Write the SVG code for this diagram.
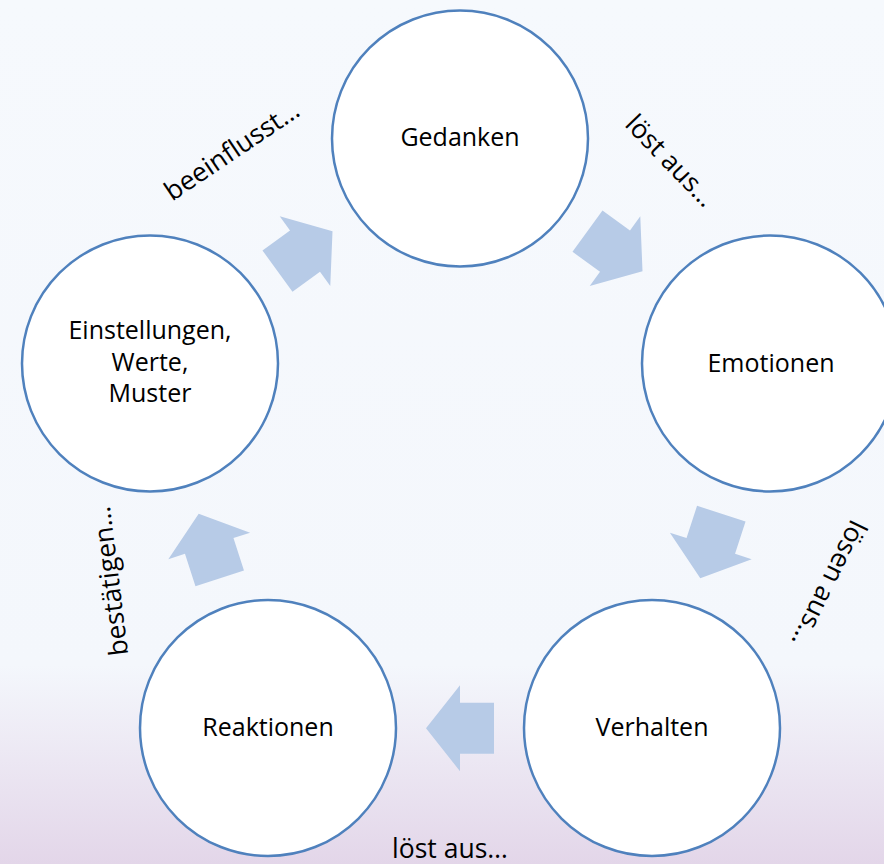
<svg xmlns="http://www.w3.org/2000/svg" width="884" height="864" viewBox="0 0 884 864">
<defs>
<linearGradient id="bg" x1="0" y1="0" x2="0" y2="1">
<stop offset="0" stop-color="#F6F9FD"/>
<stop offset="0.77" stop-color="#F4F7FC"/>
<stop offset="1" stop-color="#E3D6E9"/>
</linearGradient>
<path id="arr" d="M-34,-25.5 L0,-25.5 L0,-43 L34,0 L0,43 L0,25.5 L-34,25.5 Z"/>
<style>
.node{fill:#FFFFFF;stroke:#4F81BD;stroke-width:2.5}
.nt{font-family:"Open Sans","Noto Sans",sans-serif;font-size:25px;fill:#000;text-anchor:middle}
.lt{font-family:"Open Sans","Noto Sans",sans-serif;font-size:26.5px;fill:#000;text-anchor:middle}
.ar{fill:#B7CBE7}
</style>
</defs>
<rect x="0" y="0" width="884" height="864" fill="url(#bg)"/>
<g id="connectors">
<use href="#arr" class="ar" transform="rotate(0,460,464.5) translate(460,728.2) rotate(180)"/>
<use href="#arr" class="ar" transform="rotate(-72,460,464.5) translate(460,728.2) rotate(180)"/>
<use href="#arr" class="ar" transform="rotate(-144,460,464.5) translate(460,728.2) rotate(180)"/>
<use href="#arr" class="ar" transform="rotate(-216,460,464.5) translate(460,728.2) rotate(180)"/>
<use href="#arr" class="ar" transform="rotate(-288,460,464.5) translate(460,728.2) rotate(180)"/>
</g>
<g id="node-gedanken">
<circle class="node" cx="460" cy="138.5" r="128"/>
<text class="nt" x="460" y="146">Gedanken</text>
</g>
<g id="node-emotionen">
<circle class="node" cx="770" cy="363.5" r="128"/>
<text class="nt" x="771" y="372">Emotionen</text>
</g>
<g id="node-verhalten">
<circle class="node" cx="652" cy="728" r="128"/>
<text class="nt" x="652" y="736">Verhalten</text>
</g>
<g id="node-reaktionen">
<circle class="node" cx="268" cy="728" r="128"/>
<text class="nt" x="268" y="736">Reaktionen</text>
</g>
<g id="node-einstellungen">
<circle class="node" cx="150" cy="363.5" r="128"/>
<text class="nt" x="150" y="338.5">Einstellungen,</text>
<text class="nt" x="150" y="370.5">Werte,</text>
<text class="nt" x="150" y="402">Muster</text>
</g>
<g id="labels">
<text class="lt" transform="translate(237,158) rotate(-34)">beeinflusst…</text>
<text class="lt" transform="translate(664,167) rotate(46)">löst aus…</text>
<text class="lt" transform="translate(821,580) rotate(116)">lösen aus…</text>
<text class="lt" x="450" y="858">löst aus…</text>
<text class="lt" transform="translate(119,580) rotate(-97)">bestätigen…</text>
</g>
</svg>
